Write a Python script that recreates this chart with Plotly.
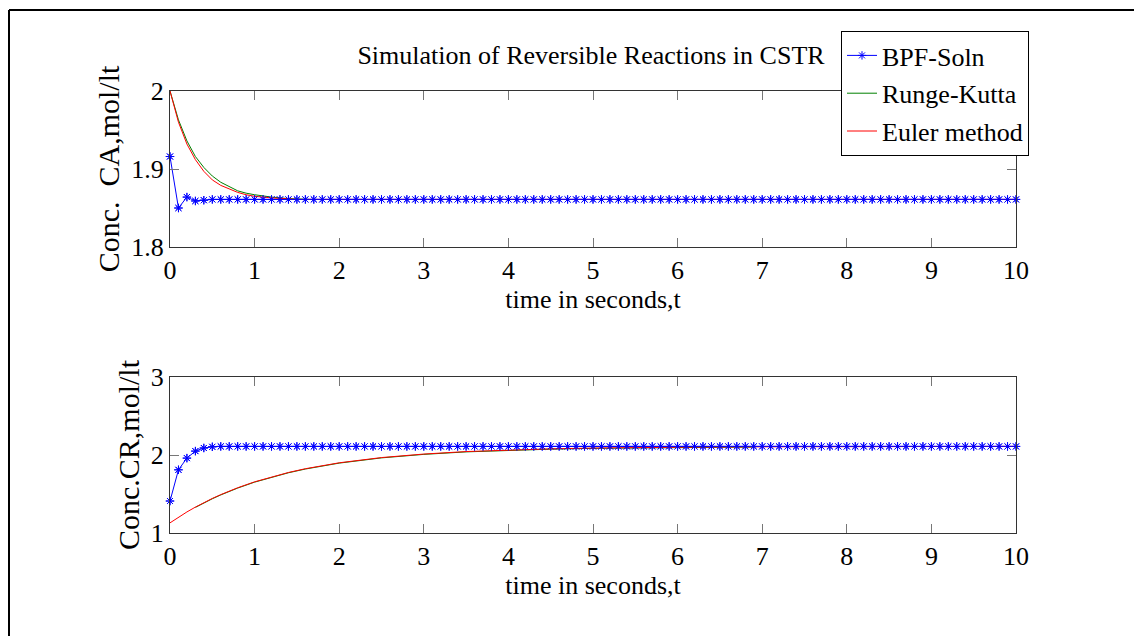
import plotly.graph_objects as go

# ---- data -------------------------------------------------------------
# BPF solution sampled every 0.1 s from 0 to 10 s
t_bpf = [i / 10 for i in range(101)]
ca_bpf = [1.916, 1.850, 1.864, 1.859, 1.860] + [1.861] * 96
cr_bpf = [1.41, 1.81, 1.96, 2.05, 2.09, 2.105] + [2.11] * 95

# Runge-Kutta solution
t_rk_ca = [0.0, 0.1, 0.2, 0.3, 0.4, 0.5, 0.6, 0.7, 0.8, 0.9, 1.0, 1.2, 1.4, 1.65]
ca_rk = [2.000, 1.963, 1.936, 1.916, 1.902, 1.891, 1.883, 1.877, 1.872, 1.869,
         1.867, 1.864, 1.862, 1.861]
t_rk_cr = [0.3, 0.4, 0.5, 0.6, 0.8, 1.0, 1.2, 1.4, 1.6, 1.8, 2.0, 2.5, 3.0, 3.5,
           4.0, 4.5, 5.0, 5.5, 6.0, 6.5, 6.9]
cr_rk = [1.328, 1.386, 1.439, 1.488, 1.576, 1.652, 1.717, 1.772, 1.820, 1.861,
         1.896, 1.963, 2.008, 2.040, 2.061, 2.075, 2.085, 2.092, 2.096, 2.099, 2.101]

# Euler method solution
t_eu_ca = [0.0, 0.1, 0.2, 0.3, 0.4, 0.5, 0.6, 0.7, 0.8, 0.9, 1.0, 1.2, 1.5, 2.0, 10.0]
ca_eu = [2.000, 1.960, 1.932, 1.912, 1.897, 1.886, 1.879, 1.874, 1.870, 1.867,
         1.865, 1.863, 1.861, 1.861, 1.861]
t_eu_cr = [0.0, 0.1, 0.2, 0.3, 0.4, 0.5, 0.6, 0.8, 1.0, 1.2, 1.4, 1.6, 1.8, 2.0,
           2.5, 3.0, 3.5, 4.0, 4.5, 5.0, 5.5, 6.0, 7.0, 8.0, 9.0, 10.0]
cr_eu = [1.130, 1.203, 1.270, 1.332, 1.390, 1.443, 1.492, 1.580, 1.656, 1.721,
         1.776, 1.824, 1.865, 1.900, 1.967, 2.012, 2.044, 2.065, 2.079, 2.089,
         2.096, 2.100, 2.105, 2.108, 2.109, 2.110]

x_ticks = [0, 1, 2, 3, 4, 5, 6, 7, 8, 9, 10]
ca_ticks = [1.8, 1.9, 2.0]
ca_tick_text = ["1.8", "1.9", "2"]
cr_ticks = [1, 2, 3]

# ---- styling ----------------------------------------------------------
W, H = 1134, 636
FONT = "Liberation Serif"
BLUE, GREEN, RED = "#0000ff", "#008000", "#ff0000"
BPF_MARKER = dict(symbol="asterisk-open", size=7, color=BLUE,
                  line=dict(color=BLUE, width=1))

fig = go.Figure()


def add_set(xa, ya, t_rk, y_rk, t_eu, y_eu, y_bpf, legend):
    fig.add_trace(go.Scatter(
        x=t_bpf, y=y_bpf, xaxis=xa, yaxis=ya, mode="lines+markers",
        name="BPF-Soln", legendgroup="bpf", showlegend=legend,
        line=dict(color=BLUE, width=1), marker=BPF_MARKER, cliponaxis=False))
    fig.add_trace(go.Scatter(
        x=t_rk, y=y_rk, xaxis=xa, yaxis=ya, mode="lines",
        name="Runge-Kutta", legendgroup="rk", showlegend=legend,
        line=dict(color=GREEN, width=1)))
    fig.add_trace(go.Scatter(
        x=t_eu, y=y_eu, xaxis=xa, yaxis=ya, mode="lines",
        name="Euler method", legendgroup="eu", showlegend=legend,
        line=dict(color=RED, width=1)))
    # BPF markers again on top of the other curves
    fig.add_trace(go.Scatter(
        x=t_bpf, y=y_bpf, xaxis=xa, yaxis=ya, mode="markers",
        name="BPF-Soln", legendgroup="bpf", showlegend=False,
        marker=BPF_MARKER, cliponaxis=False, hoverinfo="skip"))


add_set("x", "y", t_rk_ca, ca_rk, t_eu_ca, ca_eu, ca_bpf, True)
add_set("x2", "y2", t_rk_cr, cr_rk, t_eu_cr, cr_eu, cr_bpf, False)

x_dom = [170 / W, 1016 / W]


def ydom(top_px, bottom_px):
    return [1 - bottom_px / H, 1 - top_px / H]


axis_common = dict(
    showline=True, linecolor="#333333", linewidth=1, mirror="ticks",
    ticks="inside", ticklen=9, tickcolor="#777777", tickwidth=1,
    showgrid=False, zeroline=False,
    tickfont=dict(family=FONT, size=26, color="black"),
)
xtitle = dict(text="time in seconds,t", font=dict(family=FONT, size=26, color="black"),
              standoff=3)

fig.update_layout(
    width=W, height=H,
    margin=dict(l=0, r=0, t=0, b=0),
    paper_bgcolor="white", plot_bgcolor="white",
    xaxis=dict(domain=x_dom, range=[0, 10], tickvals=x_ticks, anchor="y",
               title=xtitle, automargin=False, **axis_common),
    yaxis=dict(domain=ydom(91, 247), range=[1.8, 2.0], tickvals=ca_ticks,
               ticktext=ca_tick_text, anchor="x", automargin=False,
               title=dict(text="Conc.  CA,mol/lt",
                          font=dict(family=FONT, size=30, color="black"),
                          standoff=2),
               **axis_common),
    xaxis2=dict(domain=x_dom, range=[0, 10], tickvals=x_ticks, anchor="y2",
                title=xtitle, automargin=False, **axis_common),
    yaxis2=dict(domain=ydom(377, 533), range=[1, 3], tickvals=cr_ticks,
                anchor="x2", automargin=False,
                title=dict(text="Conc.CR,mol/lt",
                           font=dict(family=FONT, size=30, color="black"),
                           standoff=2),
                **axis_common),
    title=dict(text="Simulation of Reversible Reactions in CSTR",
               font=dict(family=FONT, size=26, color="black"),
               x=591 / W, xanchor="center", y=1 - 55 / H, yanchor="middle"),
    legend=dict(x=841 / W, y=1 - 31 / H, xanchor="left", yanchor="top",
                bgcolor="white", bordercolor="black", borderwidth=1,
                font=dict(family=FONT, size=26, color="black"),
                tracegroupgap=1, itemwidth=30),
    showlegend=True,
)

# outer frame (left and top edges)
fig.add_shape(type="line", xref="paper", yref="paper",
              x0=9 / W, x1=1, y0=1 - 10 / H, y1=1 - 10 / H,
              line=dict(color="black", width=2))
fig.add_shape(type="line", xref="paper", yref="paper",
              x0=9 / W, x1=9 / W, y0=0, y1=1 - 10 / H,
              line=dict(color="black", width=2))

fig.write_html("out.html")
